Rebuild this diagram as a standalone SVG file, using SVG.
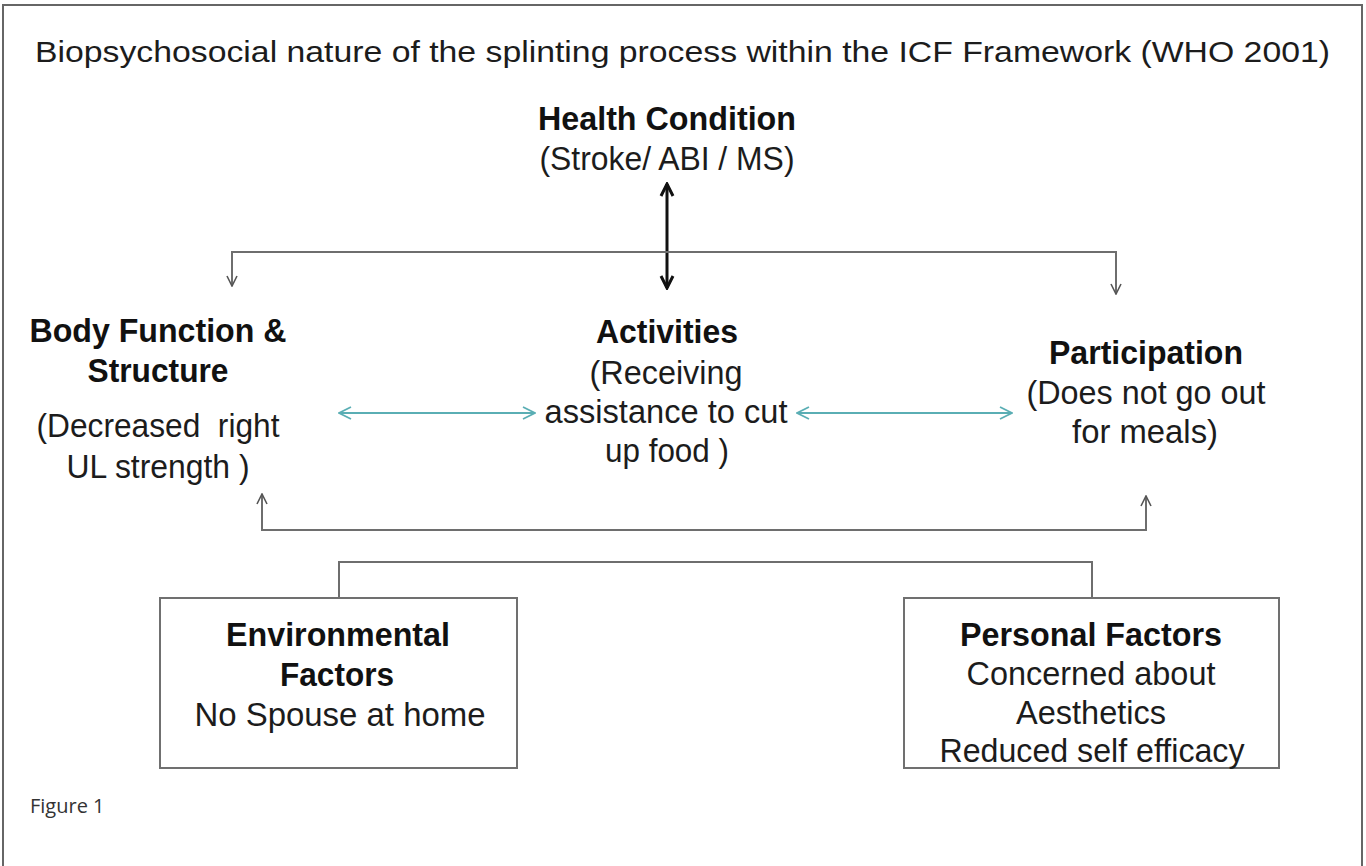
<svg xmlns="http://www.w3.org/2000/svg" width="1366" height="866" viewBox="0 0 1366 866">
  <style>
    .t { font-family: "Liberation Sans", Arial, sans-serif; fill: #1c1c1c; font-size: 34px; text-anchor: middle; }
    .b { font-weight: bold; fill: #111; font-size: 34px; }
    .title { font-size: 30px; text-anchor: start; }
    .cap { font-family: "Open Sans", "Noto Sans", sans-serif; font-size: 20px; fill: #333; }
    .grey { stroke: #6e6e6e; stroke-width: 2; fill: none; }
    .teal { stroke: #5aaeb4; stroke-width: 1.8; fill: none; }
    .box { fill: #fff; stroke: #707070; stroke-width: 2; }
  </style>
  <defs>
    <marker id="chev" viewBox="0 0 12 12" refX="11" refY="6" markerWidth="12" markerHeight="12" markerUnits="userSpaceOnUse" orient="auto-start-reverse">
      <path d="M1,1 L11,6 L1,11" fill="none" stroke="#555" stroke-width="1.6"/>
    </marker>
    <marker id="chevTeal" viewBox="0 0 14 14" refX="13" refY="7" markerWidth="14" markerHeight="14" markerUnits="userSpaceOnUse" orient="auto-start-reverse">
      <path d="M1,1 L13,7 L1,13" fill="none" stroke="#5aaeb4" stroke-width="1.8"/>
    </marker>
    <marker id="chevBlack" viewBox="0 0 16 16" refX="14" refY="8" markerWidth="16" markerHeight="16" markerUnits="userSpaceOnUse" orient="auto-start-reverse">
      <path d="M2,2 L14,8 L2,14" fill="none" stroke="#111" stroke-width="3"/>
    </marker>
  </defs>

  <rect width="1366" height="866" fill="#fff"/>
  <!-- page frame, open at the bottom -->
  <path d="M3,900 L3,5 L1362,5 L1362,900" fill="none" stroke="#666" stroke-width="2"/>

  <text class="t title" x="35" y="62" textLength="1295" lengthAdjust="spacingAndGlyphs">Biopsychosocial nature of the splinting process within the ICF Framework (WHO 2001)</text>

  <g id="connectors">
    <!-- health condition to activities -->
    <line x1="667" y1="184" x2="667" y2="288" stroke="#111" stroke-width="3" marker-start="url(#chevBlack)" marker-end="url(#chevBlack)"/>
    <!-- top distribution bar -->
    <path class="grey" d="M232,286 L232,252 L1116,252 L1116,294" marker-end="url(#chev)"/>
    <line class="grey" x1="232" y1="253" x2="232" y2="286" marker-end="url(#chev)"/>
    <!-- bottom feedback bar -->
    <path class="grey" d="M262,494 L262,530 L1146,530 L1146,496" marker-start="url(#chev)" marker-end="url(#chev)"/>
    <!-- contextual factors bracket -->
    <path class="grey" d="M339,598 L339,562 L1092,562 L1092,598"/>
    <!-- horizontal interactions -->
    <line class="teal" x1="339" y1="413" x2="535" y2="413" marker-start="url(#chevTeal)" marker-end="url(#chevTeal)"/>
    <line class="teal" x1="797" y1="413" x2="1012" y2="413" marker-start="url(#chevTeal)" marker-end="url(#chevTeal)"/>
  </g>

  <g id="health-condition">
    <text class="t b" x="667" y="130" textLength="258" lengthAdjust="spacingAndGlyphs">Health Condition</text>
    <text class="t" x="667" y="170" textLength="255" lengthAdjust="spacingAndGlyphs">(Stroke/ ABI / MS)</text>
  </g>

  <g id="body-function">
    <text class="t b" x="158" y="342" textLength="257" lengthAdjust="spacingAndGlyphs">Body Function &amp;</text>
    <text class="t b" x="158" y="382" textLength="141" lengthAdjust="spacingAndGlyphs">Structure</text>
    <text class="t" x="158" y="437" textLength="243" lengthAdjust="spacingAndGlyphs" xml:space="preserve">(Decreased  right</text>
    <text class="t" x="158" y="478" textLength="183" lengthAdjust="spacingAndGlyphs">UL strength )</text>
  </g>

  <g id="activities">
    <text class="t b" x="667" y="343" textLength="142" lengthAdjust="spacingAndGlyphs">Activities</text>
    <text class="t" x="666" y="384" textLength="153" lengthAdjust="spacingAndGlyphs">(Receiving</text>
    <text class="t" x="666" y="423" textLength="243" lengthAdjust="spacingAndGlyphs">assistance to cut</text>
    <text class="t" x="667" y="462" textLength="124" lengthAdjust="spacingAndGlyphs">up food )</text>
  </g>

  <g id="participation">
    <text class="t b" x="1146" y="364" textLength="194" lengthAdjust="spacingAndGlyphs">Participation</text>
    <text class="t" x="1146" y="404" textLength="239" lengthAdjust="spacingAndGlyphs">(Does not go out</text>
    <text class="t" x="1145" y="443" textLength="146" lengthAdjust="spacingAndGlyphs">for meals)</text>
  </g>

  <g id="environmental-factors">
    <rect class="box" x="160" y="598" width="357" height="170"/>
    <text class="t b" x="338" y="646" textLength="224" lengthAdjust="spacingAndGlyphs">Environmental</text>
    <text class="t b" x="337" y="686" textLength="114" lengthAdjust="spacingAndGlyphs">Factors</text>
    <text class="t" x="340" y="726" textLength="291" lengthAdjust="spacingAndGlyphs">No Spouse at home</text>
  </g>

  <g id="personal-factors">
    <rect class="box" x="904" y="598" width="375" height="170"/>
    <text class="t b" x="1091" y="646" textLength="262" lengthAdjust="spacingAndGlyphs">Personal Factors</text>
    <text class="t" x="1091" y="685" textLength="249" lengthAdjust="spacingAndGlyphs">Concerned about</text>
    <text class="t" x="1091" y="724" textLength="150" lengthAdjust="spacingAndGlyphs">Aesthetics</text>
    <text class="t" x="1092" y="762" textLength="305" lengthAdjust="spacingAndGlyphs">Reduced self efficacy</text>
  </g>

  <text class="cap" x="30" y="813">Figure 1</text>
</svg>
